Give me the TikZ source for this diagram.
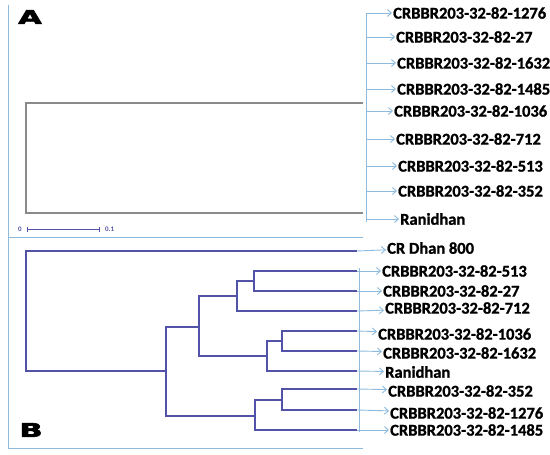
\documentclass[tikz,border=0pt]{standalone}
\usepackage{fontspec}
\setmainfont{Carlito}
\newfontfamily\leaffont{Carlito Bold}[FakeBold=1.2]
\newfontfamily\heavyfont{DejaVu Sans Bold}[FakeBold=3]
\usepackage{graphicx}
\usetikzlibrary{arrows.meta}
\definecolor{treeblue}{HTML}{5252A8}
\definecolor{paleblue}{HTML}{8EBBDD}
\definecolor{flatgray}{HTML}{8A8A8A}
\tikzset{
    leaf/.style={anchor=west,inner sep=0,font=\leaffont\fontsize{16.5}{18}\selectfont},
    branch/.style={draw=treeblue,line width=1.4pt},
    pointer/.style={draw=paleblue,line width=0.9pt,shorten >=1pt,-{Straight Barb[length=4pt,width=7pt]}},
    guide/.style={draw=paleblue,line width=0.9pt},
    flat/.style={draw=flatgray,line width=1.4pt},
    panel/.style={inner sep=0,font=\heavyfont\fontsize{19}{20}\selectfont},
    scalelabel/.style={inner sep=0,text=treeblue,font=\bfseries\fontsize{7}{8}\selectfont},
    scalebar/.style={draw=treeblue,line width=0.7pt,{Bar[width=5pt]}-{Bar[width=5pt]}}
    }

\begin{document}
\begin{tikzpicture}[x=1pt, y=-1pt]
    \useasboundingbox (0,0) rectangle (550,455);
    % The Frame
    \draw[guide] (8,5) -- (8,448) -- (363,448);
    \draw[guide] (8,237) -- (363,237);
    \node[panel] (A) at (30,17) {\scalebox{1.6}[1]{A}};
    \node[panel] (B) at (31,430) {\scalebox{1.6}[1]{B}};
    % The Scale
    \node[scalelabel] (s0) at (20,229) {0};
    \node[scalelabel, anchor=west] (s1) at (105,229) {0.1};
    \coordinate (b0) at (27,229);
    \coordinate (b1) at (100,229);
    \draw[scalebar] (b0) -- (b1);
    % Panel A
    \foreach \name/\lx/\ly in {1276/393/13, 27/396/37, 1632/397/63, 1485/397/89,
                               1036/394/111, 712/396/139, 513/398/166, 352/398/191}{
        \node[leaf] (a\name) at (\lx,\ly) {CRBBR203-32-82-\name};
        \coordinate (ta\name) at (366,\ly);
        \draw[pointer] (ta\name) -- (a\name);
    }
    \node[leaf] (aRan) at (400,219) {Ranidhan};
    \coordinate (taRan) at (366,219);
    \draw[pointer] (taRan) -- (aRan);
    \draw[guide] (ta1276) -- (366,222);
    \draw[flat] (363,103) -| (26,213) -- (363,213);
    % Panel B
    \node[leaf] (bDhan) at (387,248) {CR Dhan 800};
    \node[leaf] (bRan) at (385,372) {Ranidhan};
    \foreach \name/\lx/\ly in {513/382/271, 27/383/291, 712/385/308, 1036/378/334,
                               1632/383/353, 352/388/391, 1276/390/413, 1485/390/430}{
        \node[leaf] (b\name) at (\lx,\ly) {CRBBR203-32-82-\name};
    }
    \foreach \name/\ey in {Dhan/251, 513/271, 27/291, 712/311, 1036/331,
                           1632/351, Ran/371, 352/389, 1276/410, 1485/430}{
        \coordinate (e\name) at (357,\ey);
        \draw[pointer] (e\name) -- (b\name);
    }
    \draw[guide] (359,268) -- (359,432);
    % The Tree
    \coordinate (r) at (26,311);
    \coordinate (n1) at (166,371);
    \coordinate (n2) at (199,327);
    \coordinate (n3) at (237,296);
    \coordinate (n4) at (267,356);
    \coordinate (n5) at (255,416);
    \coordinate (n6) at (254,281);
    \coordinate (n7) at (282,341);
    \coordinate (n8) at (282,400);
    \draw[branch] (r) |- (eDhan) (r) |- (n1);
    \draw[branch] (n1) |- (n2) (n1) |- (n5);
    \draw[branch] (n2) |- (n3) (n2) |- (n4);
    \draw[branch] (n3) |- (n6) (n3) |- (e712);
    \draw[branch] (n6) |- (e513) (n6) |- (e27);
    \draw[branch] (n4) |- (n7) (n4) |- (eRan);
    \draw[branch] (n7) |- (e1036) (n7) |- (e1632);
    \draw[branch] (n5) |- (n8) (n5) |- (e1485);
    \draw[branch] (n8) |- (e352) (n8) |- (e1276);
\end{tikzpicture}
\end{document}
